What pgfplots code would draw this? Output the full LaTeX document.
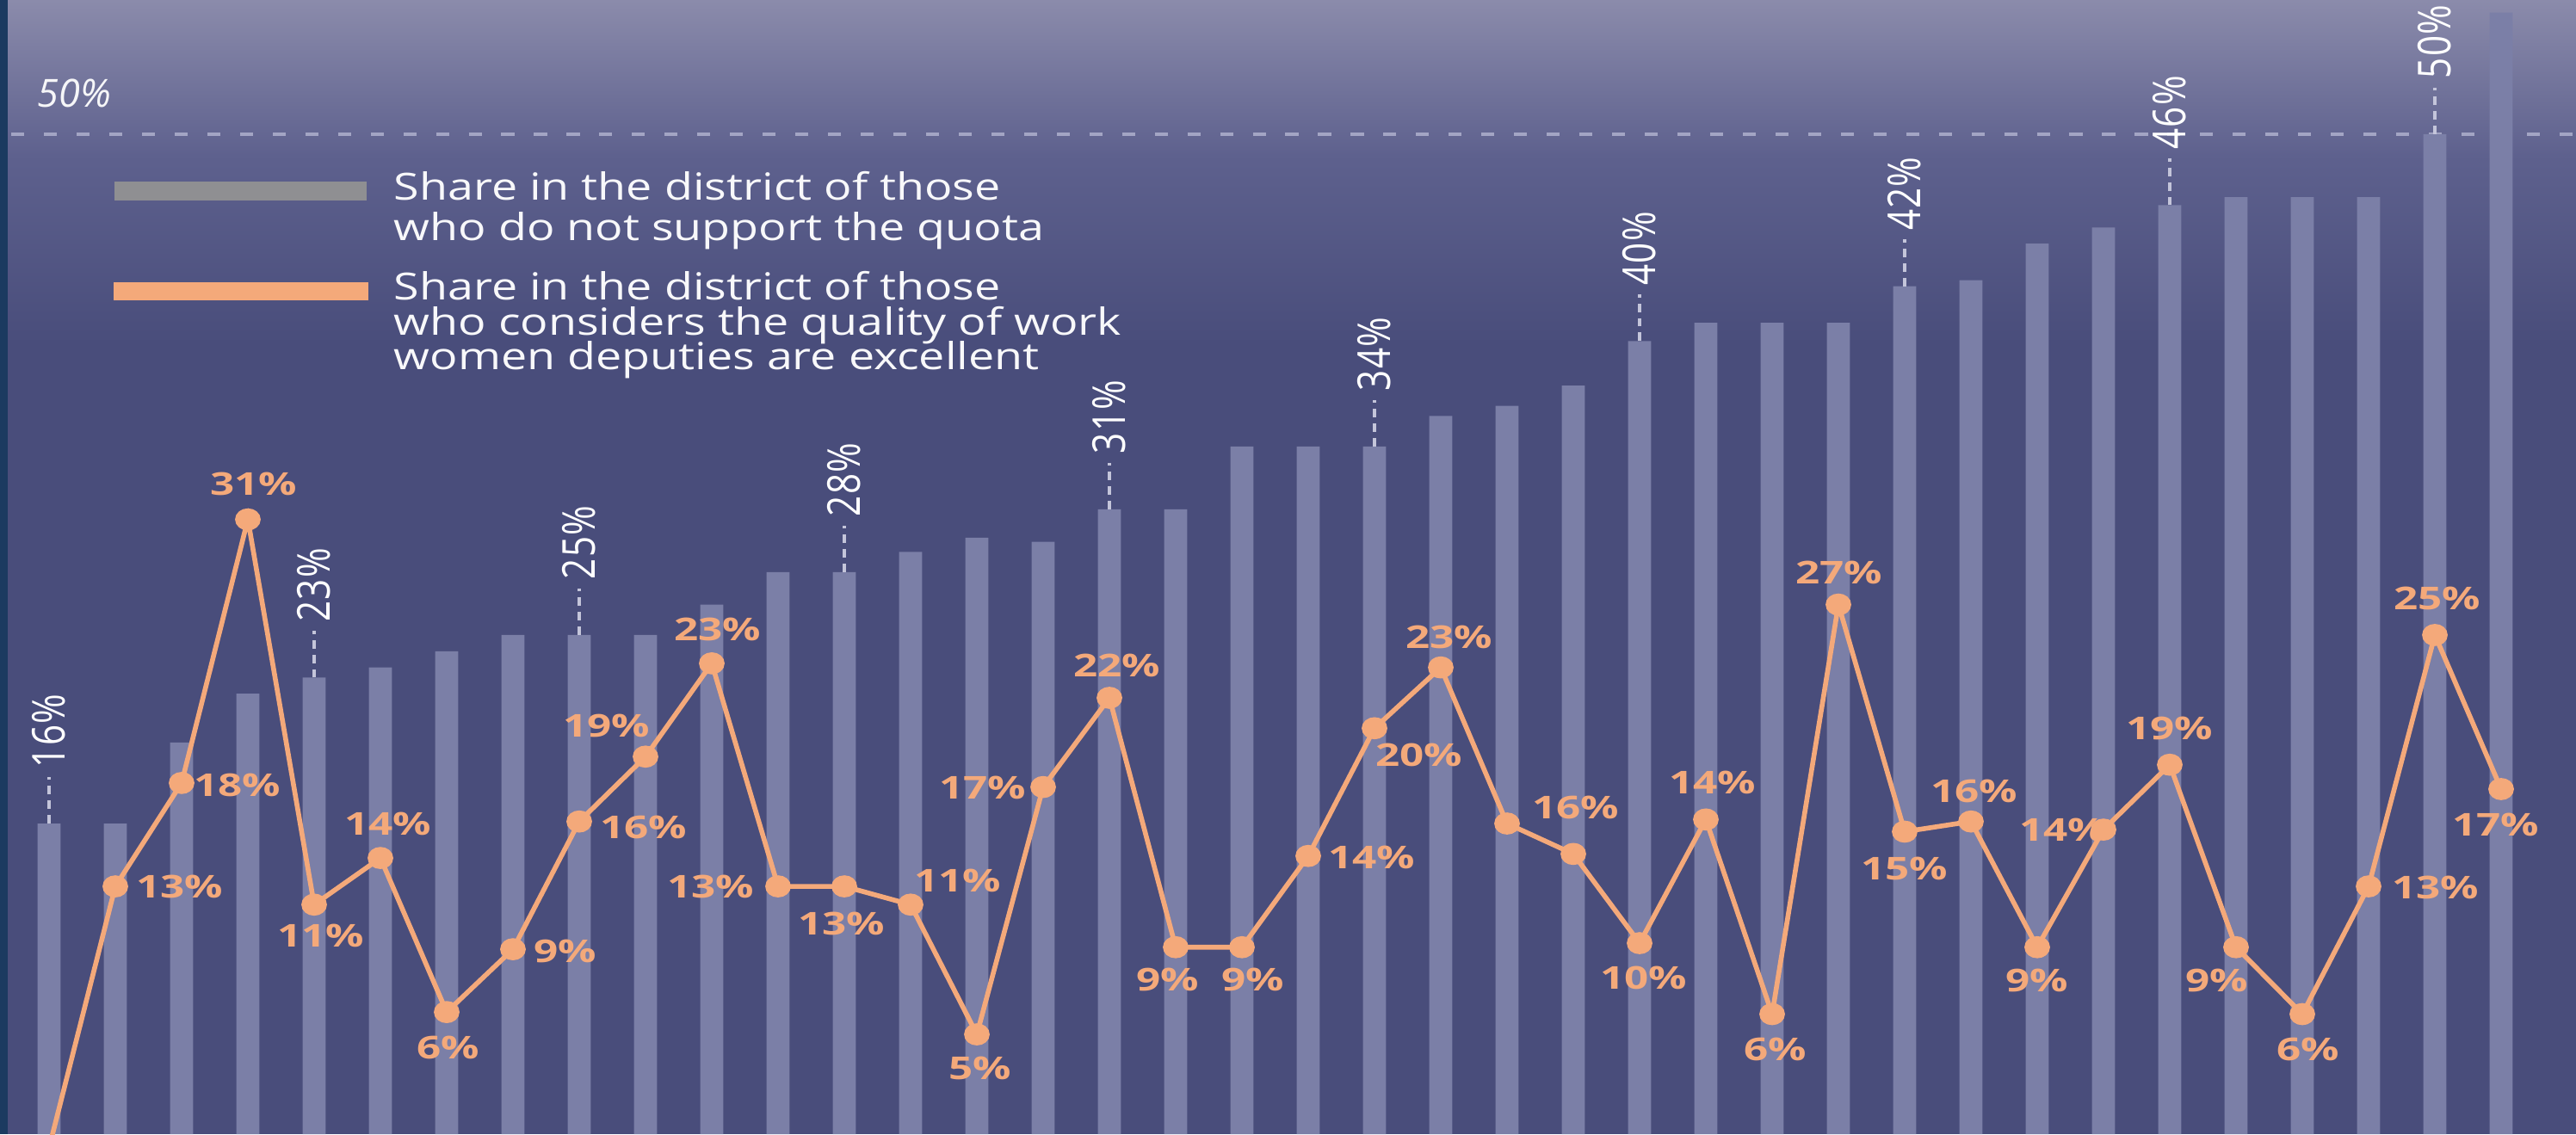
\documentclass[border=0pt]{standalone}
\usepackage{pgfplots}
\pgfplotsset{compat=1.18}
\usepackage{pgfplotstable}
\usepackage{graphicx}
\usepackage{fontspec}
\setmainfont{Open Sans}
\newfontfamily\legfont[FakeStretch=1.24]{Open Sans}
\newfontfamily\orfont[FakeStretch=1.35]{Open Sans}
\newfontfamily\wfont[LetterSpace=3]{Open Sans}

\definecolor{bgtop}{HTML}{8B8BAB}
\definecolor{bgmid}{HTML}{5E618E}
\definecolor{bg}{HTML}{494D7B}
\definecolor{strip}{HTML}{1B3A60}
\definecolor{barcol}{HTML}{7B7FA7}
\definecolor{orangec}{HTML}{F4A97A}
\definecolor{legray}{HTML}{8F8F92}
\definecolor{dashc}{HTML}{A3A5C4}
\definecolor{leadc}{HTML}{C4C5DA}

\pgfplotstableread{
x y lab
0 16.0 16
1 16.0 -1
2 20.0 -1
3 22.4 -1
4 23.2 23
5 23.7 -1
6 24.5 -1
7 25.3 -1
8 25.3 25
9 25.3 -1
10 26.8 -1
11 28.4 -1
12 28.4 28
13 29.4 -1
14 30.1 -1
15 29.9 -1
16 31.5 31
17 31.5 -1
18 34.6 -1
19 34.6 -1
20 34.6 34
21 36.1 -1
22 36.6 -1
23 37.6 -1
24 39.8 40
25 40.7 -1
26 40.7 -1
27 40.7 -1
28 42.5 42
29 42.8 -1
30 44.6 -1
31 45.4 -1
32 46.5 46
33 46.9 -1
34 46.9 -1
35 46.9 -1
36 50.0 50
37 56.0 -1
}\bardata

\pgfplotstableread{
x y lab dx dy
0 0 -1 0 0
1 12.9 13 75 0
2 18.0 18 65 -3
3 31.0 31 7 41
4 12.0 11 8 -36
5 14.3 14 9 40
6 6.7 6 2 -41
7 9.8 9 61 -2
8 16.1 16 75 -7
9 19.3 19 -45 36
10 23.9 23 7 39
11 12.9 13 -78 0
12 12.9 13 -3 -43
13 12.0 11 55 28
14 5.6 5 4 -39
15 17.8 17 -70 -1
16 22.2 22 9 38
17 9.9 9 -9 -38
18 9.9 9 13 -38
19 14.4 14 74 -2
20 20.7 20 52 -31
21 23.7 23 10 35
22 16.0 16 80 19
23 14.5 -1 0 0
24 10.1 10 5 -40
25 16.2 14 8 43
26 6.6 6 4 -41
27 26.8 27 1 37
28 15.6 15 0 -43
29 16.1 16 4 35
30 9.9 9 0 -39
31 15.7 14 -47 0
32 18.9 19 0 42
33 9.9 9 -22 -39
34 6.6 6 7 -41
35 12.9 13 78 -1
36 25.3 25 3 42
37 17.7 17 -6 -41
}\linedata

\begin{document}
\begin{tikzpicture}
\useasboundingbox (0,0) rectangle (29.93,13.18);
% background
\fill[bg] (0,0) rectangle (29.93,9.20);
\shade[top color=bgmid, bottom color=bg] (0,9.18) rectangle (29.93,11.40);
\shade[top color=bgtop, bottom color=bgmid] (0,11.38) rectangle (29.93,13.18);
\fill[strip] (0,0) rectangle (0.09,13.18);

\begin{axis}[
  at={(0,0)}, anchor=south west,
  width=29.93cm, height=13.18cm, scale only axis,
  xmin=-0.7403, xmax=38.13,
  ymin=0.679, ymax=56.62,
  hide axis, clip=true,
]
\draw[dashc, line width=1pt, dash pattern=on 4.3pt off 6.5pt]
  (axis cs:-0.57,50) -- (axis cs:38.2,50);

\addplot[ybar, bar width=0.347, fill=barcol, draw=none]
  table[x=x, y=y] {\bardata};

\addplot[only marks, mark=none,
  restrict expr to domain={\thisrow{lab}}{0:100},
  point meta=explicit symbolic,
  nodes near coords={\scalebox{1.25}[1]{\rotatebox{90}{\pgfplotspointmeta\%}}},
  every node near coord/.append style={anchor=south, inner sep=0pt,
     yshift=64*0.28453pt, text=white,
     font=\wfont\fontsize{12pt}{14pt}\selectfont},
  error bars/.cd, y dir=plus, y fixed=2.3, error mark=none,
  error bar style={draw=leadc, line width=1.4pt, dash pattern=on 2.8pt off 2pt},
  ] table[x=x, y=y, meta=lab] {\bardata};

\addplot[orangec, line width=1.6pt, mark=*, mark size=2.85pt,
  mark options={xscale=1.2, fill=orangec, draw=orangec, solid}]
  table[x=x, y=y] {\linedata};

\addplot[only marks, mark=none,
  restrict expr to domain={\thisrow{lab}}{0:100},
  point meta=explicit symbolic,
  visualization depends on={\thisrow{dx} \as \dx},
  visualization depends on={\thisrow{dy} \as \dy},
  nodes near coords={\pgfplotspointmeta\%},
  every node near coord/.append style={anchor=center, inner sep=0pt,
     xshift=\dx*0.28453pt, yshift=\dy*0.28453pt, text=orangec,
     font=\orfont\bfseries\fontsize{10.4pt}{12pt}\selectfont},
  ] table[x=x, y=y, meta=lab] {\linedata};
\end{axis}

% 50% label
\node[anchor=base west, inner sep=0pt, text=white!92!bgtop,
  font=\itshape\fontsize{12.8pt}{14pt}\selectfont] at (0.43,11.93) {50\%};

% legend
\fill[legray] (1.33,10.85) rectangle (4.26,11.07);
\fill[orangec] (1.32,9.69) rectangle (4.28,9.90);
\begin{scope}[every node/.style={anchor=base west, inner sep=0pt, text=white!96!bg,
   font=\legfont\fontsize{12.35pt}{14pt}\selectfont}]
\node at (4.57,10.86) {Share in the district of those};
\node at (4.57,10.39) {who do not support the quota};
\node at (4.57,9.70) {Share in the district of those};
\node at (4.57,9.29) {who considers the quality of work};
\node at (4.57,8.89) {women deputies are excellent};
\end{scope}
\end{tikzpicture}
\end{document}
